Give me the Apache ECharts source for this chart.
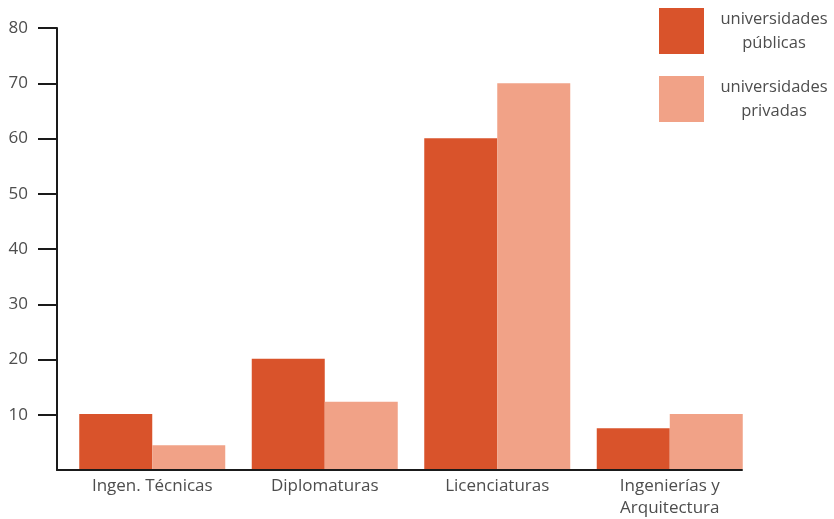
<!DOCTYPE html>
<html><head><meta charset="utf-8">
<script src="https://cdn.jsdelivr.net/npm/echarts@6/dist/echarts.min.js"></script>
<style>html,body{margin:0;padding:0;background:#fff}#c{width:834px;height:519px}</style>
</head><body><div id="c"></div>
<script>
const categories = ['Ingen. Técnicas', 'Diplomaturas', 'Licenciaturas', 'Ingenierías y\nArquitectura'];
const publicas = [10, 20, 60, 7.4];
const privadas = [4.3, 12.2, 70, 10];
const yTicks = [10, 20, 30, 40, 50, 60, 70, 80];
const seriesNames = ['universidades públicas', 'universidades privadas'];
const legendLabels = {'universidades públicas': ['universidades', 'públicas'], 'universidades privadas': ['universidades', 'privadas']};

const font = 'Open Sans';
const textColor = '#4d4d4d';
const chart = echarts.init(document.getElementById('c'));
chart.setOption({
  animation: false,
  textStyle: {fontFamily: font},
  grid: [
    {left: 57, right: 92, top: 28, bottom: 49},
    {left: 66, right: 78, top: 28, bottom: 49}
  ],
  xAxis: [
    {gridIndex: 0, type: 'value', min: 0, max: 1, axisLine: {show: true, lineStyle: {color: '#1a1a1a', width: 2}},
     axisTick: {show: false}, axisLabel: {show: false}, splitLine: {show: false}},
    {gridIndex: 1, type: 'category', data: categories, axisLine: {show: false}, axisTick: {show: false},
     axisLabel: {color: textColor, fontSize: 17, fontFamily: font, margin: 6, lineHeight: 22, interval: 0}}
  ],
  yAxis: [
    {gridIndex: 0, type: 'value', min: 0, max: 80, interval: 10,
     axisLine: {show: true, lineStyle: {color: '#1a1a1a', width: 2}},
     axisTick: {show: true, length: 19, customValues: yTicks, lineStyle: {color: '#1a1a1a', width: 2}},
     axisLabel: {color: textColor, fontSize: 17, fontFamily: font, margin: 29, customValues: yTicks},
     splitLine: {show: false}},
    {gridIndex: 1, type: 'value', min: 0, max: 80, show: false, splitLine: {show: false}}
  ],
  legend: {
    orient: 'vertical', left: 654, top: 3, itemWidth: 45, itemHeight: 46, itemGap: 22,
    icon: 'rect', data: seriesNames,
    formatter: n => legendLabels[n].map(s => '{a|' + s + '}').join('\n'),
    textStyle: {color: textColor, fontFamily: font, fontSize: 16.5,
      rich: {a: {width: 130, align: 'center', fontSize: 16.5, lineHeight: 24, color: textColor, fontFamily: font}}}
  },
  series: [
    {name: seriesNames[0], type: 'bar', xAxisIndex: 1, yAxisIndex: 1, data: publicas, barWidth: 73, barGap: '0%',
     itemStyle: {color: '#d9532b'}},
    {name: seriesNames[1], type: 'bar', xAxisIndex: 1, yAxisIndex: 1, data: privadas, barWidth: 73, barGap: '0%',
     itemStyle: {color: '#f1a287'}}
  ]
});
</script></body></html>
